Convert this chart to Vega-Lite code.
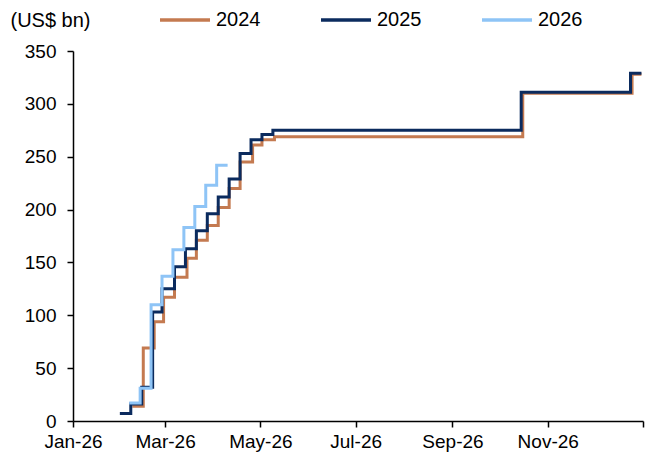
{
  "$schema": "https://vega.github.io/schema/vega-lite/v6.json",
  "width": 570,
  "height": 370,
  "autosize": {"type": "none"},
  "padding": {"left": 73, "top": 51, "right": 14, "bottom": 46},
  "background": "white",
  "config": {
    "font": "Liberation Sans",
    "view": {"stroke": null},
    "axis": {"labelFont": "Liberation Sans", "titleFont": "Liberation Sans"},
    "legend": {"labelFont": "Liberation Sans"}
  },
  "data": {
    "values": [
      {"series": "2024", "date": "2026-02-08", "value": 14},
      {"series": "2024", "date": "2026-02-15", "value": 69},
      {"series": "2024", "date": "2026-02-22", "value": 94},
      {"series": "2024", "date": "2026-02-28", "value": 117},
      {"series": "2024", "date": "2026-03-07", "value": 136},
      {"series": "2024", "date": "2026-03-15", "value": 154},
      {"series": "2024", "date": "2026-03-21", "value": 171},
      {"series": "2024", "date": "2026-03-28", "value": 185},
      {"series": "2024", "date": "2026-04-04", "value": 202},
      {"series": "2024", "date": "2026-04-11", "value": 220},
      {"series": "2024", "date": "2026-04-18", "value": 245},
      {"series": "2024", "date": "2026-04-26", "value": 261},
      {"series": "2024", "date": "2026-05-02", "value": 266},
      {"series": "2024", "date": "2026-05-10", "value": 269},
      {"series": "2024", "date": "2026-10-16", "value": 310},
      {"series": "2024", "date": "2026-12-25", "value": 328},
      {"series": "2024", "date": "2026-12-31", "value": 328},
      {"series": "2025", "date": "2026-01-31", "value": 7},
      {"series": "2025", "date": "2026-02-07", "value": 16},
      {"series": "2025", "date": "2026-02-14", "value": 32},
      {"series": "2025", "date": "2026-02-21", "value": 103},
      {"series": "2025", "date": "2026-02-27", "value": 125},
      {"series": "2025", "date": "2026-03-07", "value": 146},
      {"series": "2025", "date": "2026-03-14", "value": 163},
      {"series": "2025", "date": "2026-03-21", "value": 180},
      {"series": "2025", "date": "2026-03-28", "value": 196},
      {"series": "2025", "date": "2026-04-04", "value": 212},
      {"series": "2025", "date": "2026-04-11", "value": 229},
      {"series": "2025", "date": "2026-04-18", "value": 253},
      {"series": "2025", "date": "2026-04-25", "value": 266},
      {"series": "2025", "date": "2026-05-02", "value": 271},
      {"series": "2025", "date": "2026-05-09", "value": 275},
      {"series": "2025", "date": "2026-10-15", "value": 311},
      {"series": "2025", "date": "2026-12-24", "value": 329},
      {"series": "2025", "date": "2026-12-31", "value": 329},
      {"series": "2026", "date": "2026-02-06", "value": 17},
      {"series": "2026", "date": "2026-02-13", "value": 31},
      {"series": "2026", "date": "2026-02-20", "value": 110},
      {"series": "2026", "date": "2026-02-27", "value": 137},
      {"series": "2026", "date": "2026-03-06", "value": 162},
      {"series": "2026", "date": "2026-03-13", "value": 183},
      {"series": "2026", "date": "2026-03-20", "value": 203},
      {"series": "2026", "date": "2026-03-27", "value": 223},
      {"series": "2026", "date": "2026-04-03", "value": 242},
      {"series": "2026", "date": "2026-04-10", "value": 242}
    ]
  },
  "mark": {"type": "line", "interpolate": "step-after", "strokeWidth": 3},
  "encoding": {
    "x": {
      "field": "date",
      "type": "temporal",
      "scale": {"type": "utc", "domain": [{"year": 2026, "month": 1, "date": 1, "utc": true}, {"year": 2027, "month": 1, "date": 1, "utc": true}]},
      "axis": {
        "title": null,
        "format": "%b-%y",
        "tickCount": {"interval": "month", "step": 2},
        "labelExpr": "utcyear(datum.value) == 2027 ? '' : datum.label",
        "grid": false,
        "domainColor": "black",
        "domainWidth": 1.5,
        "tickColor": "black",
        "tickWidth": 1.5,
        "tickSize": 6,
        "labelFontSize": 19,
        "labelColor": "black",
        "labelPadding": 5,
        "labelFlush": false,
        "labelOverlap": false
      }
    },
    "y": {
      "field": "value",
      "type": "quantitative",
      "scale": {"domain": [0, 350], "nice": false},
      "axis": {
        "values": [0, 50, 100, 150, 200, 250, 300, 350],
        "grid": false,
        "title": "(US$ bn)",
        "titleAngle": 0,
        "titleX": -63,
        "titleY": -31,
        "titleAlign": "left",
        "titleBaseline": "middle",
        "titleFontSize": 20,
        "titleFontWeight": "normal",
        "titleColor": "black",
        "domainColor": "black",
        "domainWidth": 1.5,
        "tickColor": "black",
        "tickWidth": 1.5,
        "tickSize": 6,
        "labelFontSize": 19,
        "labelColor": "black",
        "labelPadding": 11
      }
    },
    "color": {
      "field": "series",
      "type": "nominal",
      "scale": {"domain": ["2024", "2025", "2026"], "range": ["#C47A50", "#0B2B5E", "#8EC4F6"]},
      "legend": {
        "title": null,
        "orient": "none",
        "legendX": 85,
        "legendY": -58,
        "direction": "horizontal",
        "columns": 3,
        "columnPadding": 53,
        "symbolType": "stroke",
        "symbolSize": 2500,
        "symbolStrokeWidth": 3.5,
        "labelFontSize": 20,
        "labelColor": "black",
        "labelOffset": 4
      }
    }
  }
}
